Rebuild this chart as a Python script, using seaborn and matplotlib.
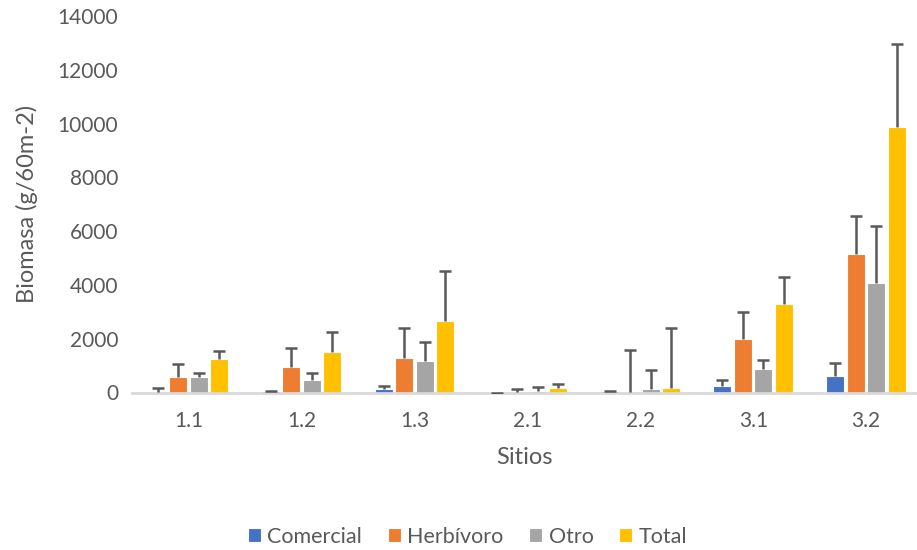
import numpy as np
import pandas as pd
import matplotlib
matplotlib.use("Agg")
import matplotlib.pyplot as plt
import seaborn as sns

sitios = ["1.1", "1.2", "1.3", "2.1", "2.2", "3.1", "3.2"]
grupos = ["Comercial", "Herbívoro", "Otro", "Total"]

comercial = [20, 50, 120, 0, 50, 250, 610]
herbivoro = [570, 960, 1300, 10, 20, 2000, 5150]
otro = [570, 475, 1160, 70, 120, 890, 4080]
total = [1250, 1500, 2670, 170, 170, 3290, 9870]

comercial_err = [130, 0, 120, 0, 0, 210, 500]
herbivoro_err = [500, 690, 1090, 110, 1550, 1000, 1420]
otro_err = [165, 260, 730, 120, 710, 315, 2100]
total_err = [305, 745, 1840, 130, 2220, 990, 3100]

colores = ["#4472C4", "#ED7D31", "#A5A5A5", "#FFC000"]
ytick_vals = [0, 2000, 4000, 6000, 8000, 10000, 12000, 14000]

valores = [comercial, herbivoro, otro, total]
errores = [comercial_err, herbivoro_err, otro_err, total_err]

df = pd.DataFrame({
    "Sitio": [s for g in grupos for s in sitios],
    "Grupo": [g for g in grupos for s in sitios],
    "Biomasa": [v for vals in valores for v in vals],
})

sns.set_style("white")
plt.rcParams["font.family"] = ["Lato", "DejaVu Sans"]
txt = "#595959"

fig = plt.figure(figsize=(9.17, 5.5), dpi=100)
ax = fig.add_axes([132 / 917, 1 - 392.5 / 550, 1 - 132 / 917, (392.5 - 16) / 550])

sns.barplot(data=df, x="Sitio", y="Biomasa", hue="Grupo", order=sitios,
            hue_order=grupos, palette=colores, saturation=1, width=0.726,
            gap=0.12, edgecolor="white", linewidth=0.8, errorbar=None,
            ax=ax, legend=True)

for cont, errs in zip(ax.containers, errores):
    xs = [b.get_x() + b.get_width() / 2 for b in cont]
    hs = [b.get_height() for b in cont]
    ebc = ax.errorbar(xs, hs, yerr=[np.zeros(len(errs)), errs], fmt="none",
                      ecolor="#595959", elinewidth=1.8, capsize=4.3,
                      capthick=1.8, zorder=3)
    caps = ebc.lines[1]
    if len(caps) > 1:
        caps[0].set_visible(False)

ax.set_ylim(0, 14000)
ax.set_xlim(-0.5, 6.45)
ax.set_yticks(ytick_vals)
ax.set_yticklabels([str(v) for v in ytick_vals])
ax.tick_params(axis="both", length=0, colors=txt, labelsize=15)
ax.tick_params(axis="x", pad=13)
ax.tick_params(axis="y", pad=10)
for sp in ["top", "right", "left"]:
    ax.spines[sp].set_visible(False)
ax.spines["bottom"].set_color("#D9D9D9")
ax.spines["bottom"].set_linewidth(2)
ax.set_xlabel("Sitios", fontsize=17, color=txt, labelpad=12)
ax.set_ylabel("Biomasa (g/60m-2)", fontsize=17, color=txt, labelpad=14)

handles, labels = ax.get_legend_handles_labels()
ax.get_legend().remove()
fig.legend(handles, labels, loc="center", bbox_to_anchor=(0.51, 0.024),
           ncol=4, frameon=False, fontsize=15.5, handlelength=0.6,
           handleheight=0.6, handletextpad=0.3, columnspacing=1.2,
           labelcolor=txt)

fig.savefig("out.png", dpi=100)
